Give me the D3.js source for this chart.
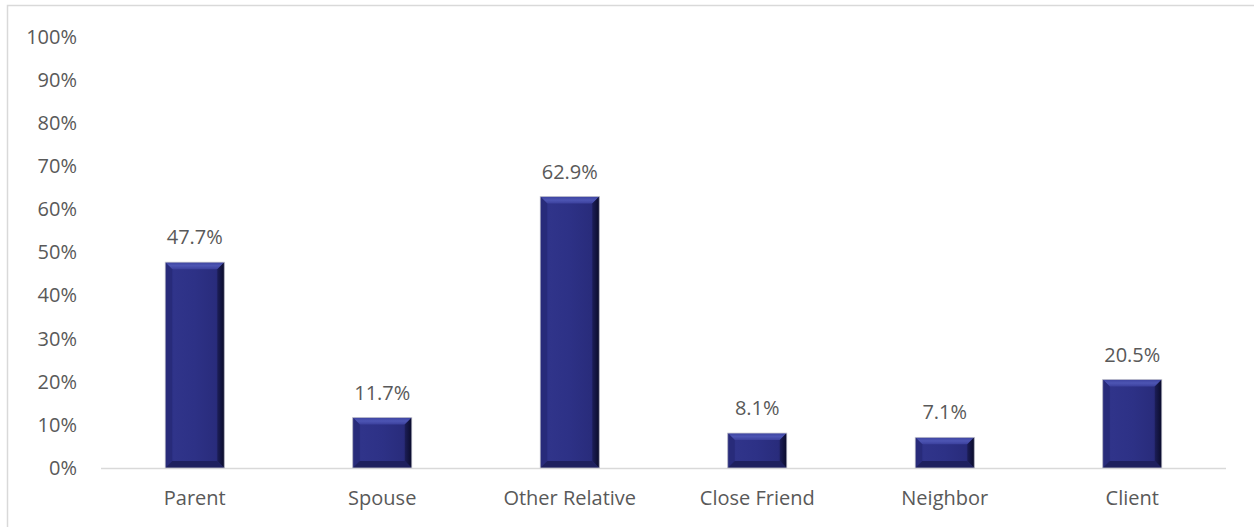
<!DOCTYPE html>
<html><head><meta charset="utf-8">
<script src="https://cdn.jsdelivr.net/npm/d3@7"></script>
<style>body{margin:0;background:#fff}svg{display:block}text{font-family:"Open Sans",sans-serif;fill:#595959}</style>
</head><body><svg id="c" width="1254" height="527"></svg>
<script>
const categories = ["Parent","Spouse","Other Relative","Close Friend","Neighbor","Client"];
const values = [47.7, 11.7, 62.9, 8.1, 7.1, 20.5];
const ticks = [0,10,20,30,40,50,60,70,80,90,100];

const svg = d3.select("#c");
svg.append("rect").attr("x",7.5).attr("y",5.5).attr("width",1260).attr("height",540)
  .attr("fill","none").attr("stroke","#d9d9d9").attr("stroke-width",1.5);

const x = d3.scaleBand().domain(categories).range([101,1226]).paddingInner(0.685).paddingOuter(0.3425);
const y = d3.scaleLinear().domain([0,100]).range([468,36.5]);

const defs = svg.append("defs");
const g1 = defs.append("linearGradient").attr("id","face").attr("x1","0").attr("x2","1").attr("y1","0").attr("y2","0");
[[0,"#2a2e80"],[0.15,"#30348a"],[0.5,"#2d3186"],[0.85,"#292c7c"],[1,"#202264"]].forEach(([o,c])=>g1.append("stop").attr("offset",o).attr("stop-color",c));
const gt = defs.append("linearGradient").attr("id","topb").attr("x1","0").attr("x2","0").attr("y1","0").attr("y2","1");
[[0,"#3d43a0"],[0.5,"#4d55b3"],[1,"#3b409c"]].forEach(([o,c])=>gt.append("stop").attr("offset",o).attr("stop-color",c));
const gr = defs.append("linearGradient").attr("id","rb").attr("x1","0").attr("x2","1").attr("y1","0").attr("y2","0");
[[0,"#1c1e58"],[1,"#0a0b2a"]].forEach(([o,c])=>gr.append("stop").attr("offset",o).attr("stop-color",c));

svg.append("g").selectAll("text").data(ticks).join("text")
  .attr("x",77).attr("y",d=>y(d)).attr("dy","0.35em").attr("text-anchor","end")
  .style("font-size","20px").text(d=>d+"%");

svg.append("line").attr("x1",101).attr("x2",1226).attr("y1",y(0)+0.5).attr("y2",y(0)+0.5)
  .attr("stroke","#d9d9d9").attr("stroke-width",1.5);

const bw = x.bandwidth();
const b = 7;
const bars = svg.append("g").selectAll("g").data(categories.map((c,i)=>({c,v:values[i]}))).join("g");
bars.each(function(d){
  const g = d3.select(this);
  const x0 = x(d.c), x1 = x0+bw, y0 = y(d.v), y1 = y(0);
  g.append("rect").attr("x",x0).attr("y",y0).attr("width",bw).attr("height",y1-y0).attr("fill","url(#face)");
  g.append("polygon").attr("points",[[x0,y0],[x1,y0],[x1-b,y0+b],[x0+b,y0+b]].join(" ")).attr("fill","url(#topb)");
  g.append("polygon").attr("points",[[x0,y0],[x0+b,y0+b],[x0+b,y1-b],[x0,y1]].join(" ")).attr("fill","#282b7a");
  g.append("polygon").attr("points",[[x1,y0],[x1,y1],[x1-b,y1-b],[x1-b,y0+b]].join(" ")).attr("fill","url(#rb)");
  g.append("polygon").attr("points",[[x0,y1],[x1,y1],[x1-b,y1-b],[x0+b,y1-b]].join(" ")).attr("fill","#1e205e");
  g.append("rect").attr("x",x0).attr("y",y0).attr("width",bw).attr("height",y1-y0)
    .attr("fill","none").attr("stroke","#c8c8d0").attr("stroke-width",0.8);
  g.append("text").attr("x",x0+bw/2).attr("y",y0-18).attr("text-anchor","middle")
    .style("font-size","20px").text(d.v.toFixed(1)+"%");
});

svg.append("g").selectAll("text").data(categories).join("text")
  .attr("x",d=>x(d)+bw/2).attr("y",505).attr("text-anchor","middle")
  .style("font-size","20px").text(d=>d);
</script></body></html>
